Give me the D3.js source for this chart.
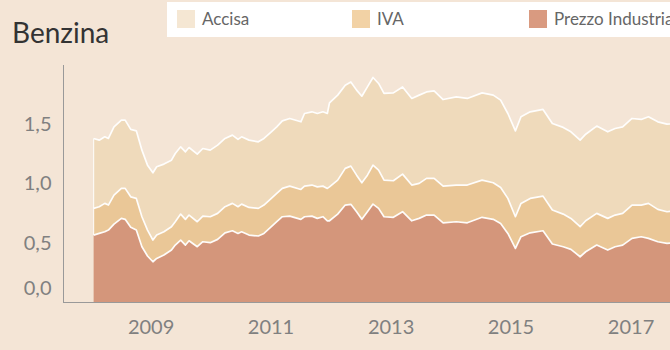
<!DOCTYPE html>
<html><head><meta charset="utf-8">
<script src="https://cdn.jsdelivr.net/npm/d3@7"></script>
<style>
body{margin:0;background:#f4e5d6;}
svg{display:block;font-family:Lato, "Noto Sans", sans-serif;}
</style></head>
<body><svg id="chart" width="670" height="350"></svg>
<script>
// ---- data (euro per litre) ----
const dates = ["2008-01-20","2008-02-23","2008-03-28","2008-04-19","2008-05-23","2008-07-07","2008-07-30",
"2008-09-02","2008-10-06","2008-11-09","2008-12-13","2009-01-15","2009-02-07","2009-03-23","2009-05-08",
"2009-05-31","2009-07-03","2009-08-01","2009-08-23","2009-10-12","2009-11-15","2009-12-30","2010-02-13",
"2010-03-30","2010-05-14","2010-06-17","2010-07-09","2010-08-23","2010-10-19","2010-11-22","2011-01-06",
"2011-02-08","2011-03-14","2011-04-28","2011-07-05","2011-07-27","2011-09-10","2011-10-13","2011-11-16",
"2011-12-13","2011-12-26","2012-02-14","2012-03-31","2012-05-04","2012-06-08","2012-07-10","2012-08-13",
"2012-09-16","2012-10-20","2012-11-22","2013-01-18","2013-03-15","2013-05-10","2013-06-24","2013-08-08",
"2013-09-23","2013-11-17","2014-02-05","2014-04-13","2014-07-12","2014-09-18","2014-11-02","2014-12-16",
"2015-01-31","2015-03-06","2015-05-01","2015-07-18","2015-09-13","2015-11-18","2016-01-04","2016-02-29",
"2016-04-03","2016-06-09","2016-08-15","2016-09-29","2016-11-14","2017-01-10","2017-03-07","2017-04-20",
"2017-06-16","2017-08-11","2017-10-30"];
const prezzoIndustriale = [0.562,0.576,0.590,0.604,0.654,0.702,0.694,
0.627,0.604,0.464,0.386,0.338,0.366,0.394,0.436,
0.478,0.520,0.478,0.514,0.464,0.506,0.498,0.526,
0.581,0.598,0.576,0.590,0.562,0.554,0.576,0.632,
0.674,0.716,0.721,0.694,0.716,0.721,0.702,0.716,
0.682,0.682,0.738,0.814,0.820,0.758,0.694,0.758,
0.822,0.786,0.716,0.711,0.758,0.682,0.702,0.730,
0.730,0.665,0.674,0.665,0.711,0.694,0.660,0.576,
0.450,0.548,0.581,0.598,0.487,0.464,0.442,0.380,
0.422,0.478,0.436,0.464,0.478,0.534,0.548,0.534,
0.506,0.492,0.500];
const iva = [0.224,0.224,0.238,0.210,0.244,0.252,0.260,
0.256,0.266,0.252,0.218,0.182,0.196,0.196,0.196,
0.196,0.218,0.216,0.216,0.210,0.215,0.218,0.218,
0.219,0.230,0.224,0.232,0.232,0.232,0.238,0.238,
0.238,0.238,0.252,0.251,0.257,0.261,0.265,0.257,
0.272,0.285,0.285,0.308,0.321,0.307,0.307,0.307,
0.327,0.321,0.307,0.307,0.316,0.300,0.294,0.308,
0.308,0.308,0.308,0.317,0.312,0.307,0.302,0.294,
0.266,0.280,0.289,0.291,0.285,0.274,0.260,0.252,
0.260,0.266,0.266,0.266,0.266,0.280,0.266,0.294,
0.272,0.266,0.270];
const accisa = [0.587,0.559,0.559,0.559,0.573,0.573,0.573,
0.566,0.567,0.559,0.545,0.565,0.573,0.568,0.559,
0.573,0.565,0.567,0.567,0.568,0.568,0.559,0.573,
0.573,0.573,0.565,0.565,0.565,0.559,0.559,0.559,
0.559,0.567,0.568,0.568,0.610,0.615,0.616,0.624,
0.629,0.705,0.714,0.698,0.707,0.714,0.727,0.741,
0.736,0.728,0.728,0.738,0.732,0.727,0.741,0.726,
0.735,0.727,0.740,0.727,0.733,0.736,0.733,0.713,
0.721,0.727,0.727,0.728,0.727,0.728,0.727,0.727,
0.727,0.733,0.727,0.727,0.727,0.727,0.719,0.727,
0.735,0.735,0.730];
const seriesNames = ["Accisa","IVA","Prezzo Industriale"];
const yTicks = [0, 0.5, 1.0, 1.5];
const xTickYears = [2009, 2011, 2013, 2015, 2017];
const title = "Benzina";

// ---- styling ----
const fills = {"Accisa":"#efdabb","IVA":"#eac797","Prezzo Industriale":"#d4967b"};
const swatch = {"Accisa":"#f5e7d3","IVA":"#f2d2a5","Prezzo Industriale":"#d99a80"};

const rows = dates.map((d,i)=>({date:new Date(d+"T00:00:00Z"),
  "Prezzo Industriale":prezzoIndustriale[i], "IVA":iva[i], "Accisa":accisa[i]}));

const svg = d3.select("#chart");
const x = d3.scaleUtc().domain([new Date(Date.UTC(2008,0,1)), new Date(Date.UTC(2018,0,1))]).range([90.5, 690.5]);
const y = d3.scaleLinear().domain([0,1.99]).range([302,65]);

svg.append("rect").attr("width",670).attr("height",350).attr("fill","#f4e5d6");

svg.append("defs").append("clipPath").attr("id","plot")
  .append("rect").attr("x",63).attr("y",0).attr("width",607).attr("height",302);

const stack = d3.stack().keys(["Prezzo Industriale","IVA","Accisa"]);
const layers = stack(rows);
const area = d3.area().x(d=>x(d.data.date)).y0(d=>y(d[0])).y1(d=>y(d[1]));
const line = d3.line().x(d=>x(d.data.date)).y(d=>y(d[1]));

const g = svg.append("g").attr("clip-path","url(#plot)");
g.selectAll("path.area").data(layers).join("path").attr("class","area")
  .attr("d",area).attr("fill",d=>fills[d.key]);
// left edge
g.append("line").attr("x1",x(rows[0].date)).attr("x2",x(rows[0].date))
  .attr("y1",y(layers[2][0][1])).attr("y2",y(layers[0][0][1]))
  .attr("stroke","#fff").attr("stroke-width",1.2).attr("opacity",0.8);
g.selectAll("path.top").data(layers).join("path").attr("class","top")
  .attr("d",line).attr("fill","none").attr("stroke","#fff").attr("stroke-width",1.7)
  .attr("stroke-linejoin","round").attr("opacity",0.95);

// axes
const it = d3.formatLocale({decimal:",",thousands:".",grouping:[3],currency:["","€"]});
const fmt = it.format(".1f");
const yAxis = svg.append("g").attr("transform","translate(63.5,0)")
  .call(d3.axisLeft(y).tickValues(yTicks).tickSize(0).tickPadding(12).tickFormat(fmt));
yAxis.select(".domain").remove();
yAxis.selectAll("text").attr("font-size",20).attr("fill","#808080").attr("font-family","Lato, sans-serif")
  .attr("dy",d=>d===0?"-0.4em":"0.35em");
svg.append("line").attr("x1",63.5).attr("x2",63.5).attr("y1",65).attr("y2",302.5).attr("stroke","#999");

const xAxis = svg.append("g").attr("transform","translate(0,302)")
  .call(d3.axisBottom(x).tickValues(xTickYears.map(yv=>new Date(Date.UTC(yv,0,1)))).tickSize(0).tickPadding(18)
    .tickFormat(d3.utcFormat("%Y")));
xAxis.select(".domain").remove();
xAxis.selectAll("text").attr("font-size",20).attr("fill","#808080").attr("font-family","Lato, sans-serif");
svg.append("line").attr("x1",63).attr("x2",670).attr("y1",302.5).attr("y2",302.5).attr("stroke","#999");

// title
svg.append("text").attr("x",12).attr("y",43).text(title)
  .attr("font-size",28).attr("fill","#333");

// legend
svg.append("rect").attr("x",167).attr("y",2).attr("width",510).attr("height",35).attr("fill","#fff");
const legX = [177, 352, 529];
const leg = svg.selectAll("g.leg").data(seriesNames).join("g").attr("class","leg")
  .attr("transform",(d,i)=>`translate(${legX[i]},10)`);
leg.append("rect").attr("width",18).attr("height",18).attr("fill",d=>swatch[d]);
leg.append("text").attr("x",25).attr("y",9).attr("dy","0.35em").text(d=>d)
  .attr("font-size",17).attr("fill","#666");
</script>
</body></html>
